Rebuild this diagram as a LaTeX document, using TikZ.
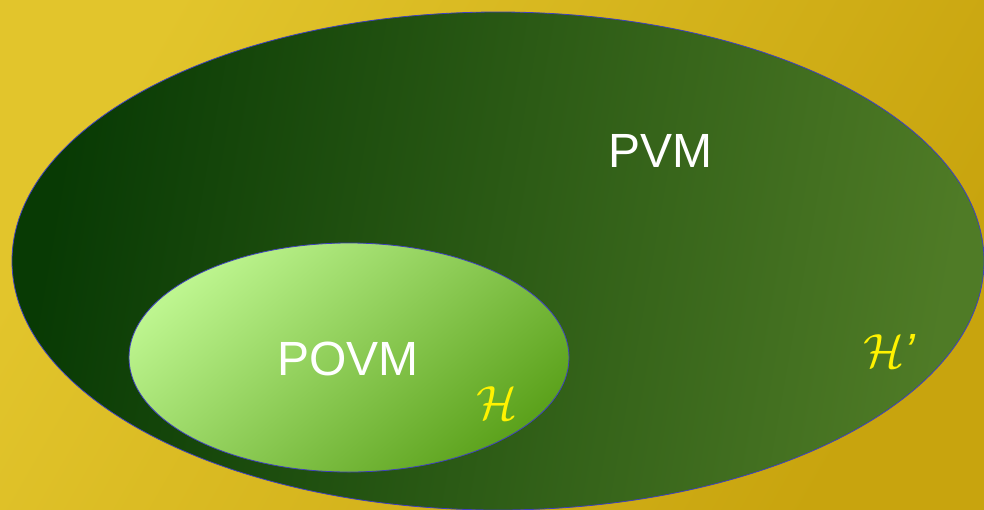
\documentclass[tikz,border=0pt]{standalone}
\usepackage{fontspec}
\setmainfont{Liberation Sans}
\begin{document}
\begin{tikzpicture}[x=1pt,y=-1pt,
  lbl/.style={text=white,font=\fontsize{48}{54}\selectfont},
  hlbl/.style={text=yellow,scale=4.8},
  rim/.style={draw=blue!50!gray,line width=0.8pt}]
\definecolor{bgA}{HTML}{E2C52C}
\definecolor{bgB}{HTML}{C8A40E}
\definecolor{bigA}{HTML}{083A04}
\definecolor{bigB}{HTML}{4F7B26}
\definecolor{smA}{HTML}{BDF58F}
\definecolor{smB}{HTML}{5CA21C}
\useasboundingbox (0,0) rectangle (984,509);
\begin{scope}
\clip (0,0) rectangle (984,509);
\shade[left color=bgA,right color=bgB,shading angle=60] (0,0) rectangle (984,509);
\shade[left color=bigA,right color=bigB,shading angle=80,rim] (498,261) ellipse [x radius=486,y radius=249];
\shade[left color=smA,right color=smB,shading angle=40,rim] (349,357.5) ellipse [x radius=220,y radius=114.5];
\end{scope}
\node[lbl] (pvm) at (660,151) {PVM};
\node[lbl] (povm) at (348,359) {POVM};
\node[hlbl] (h) at (497,403) {$\mathcal{H}$};
\node[hlbl] (hp) at (890,351) {$\mathcal{H}$\textit{'}};
\end{tikzpicture}
\end{document}
